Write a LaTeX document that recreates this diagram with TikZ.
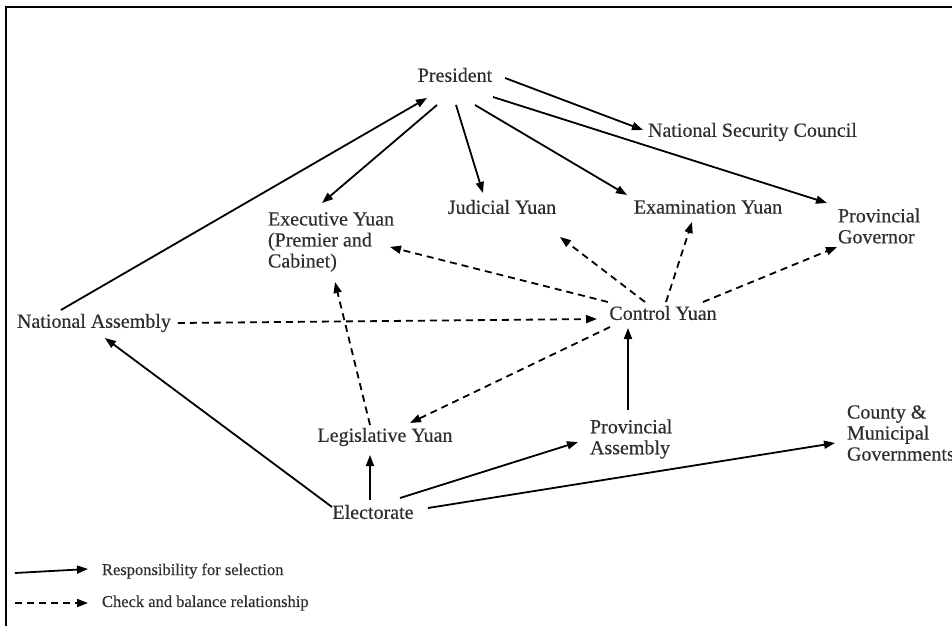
\documentclass[tikz,border=0pt]{standalone}
\usepackage{fontspec}
\setmainfont[FakeBold=0.4]{Liberation Serif}
\usetikzlibrary{arrows.meta}
\definecolor{txt}{RGB}{50,44,50}
\begin{document}
\begin{tikzpicture}[x=1pt,y=-1pt,
  lbl/.style={inner sep=0pt,outer sep=0pt,text=txt,font=\fontsize{20}{21}\selectfont,align=left},
  leglbl/.style={inner sep=0pt,outer sep=0pt,text=txt,font=\fontsize{16.5}{18}\selectfont,anchor=west},
  sel/.style={line width=1.8pt,-{Triangle[length=11pt,width=8pt]}},
  cb/.style={line width=1.8pt,dash pattern=on 7pt off 5pt,-{Triangle[length=11pt,width=8pt]}}]
\useasboundingbox (0,0) rectangle (952,626);
\fill[white] (0,0) rectangle (952,626);
\draw[line width=2.8pt] (952,7) -- (6,7) -- (6,626);

\node[lbl] (pres) at (455,75) {President};
\node[lbl,anchor=west] (nsc) at (648,132) {National Security Council};
\node[lbl,anchor=west] (exec) at (268,242) {Executive Yuan\\(Premier and\\Cabinet)};
\node[lbl] (jud) at (502,207) {Judicial Yuan};
\node[lbl] (exam) at (708,207) {Examination Yuan};
\node[lbl,anchor=west] (gov) at (838,226) {Provincial\\Governor};
\node[lbl] (ctrl) at (663,313) {Control Yuan};
\node[lbl,anchor=west] (na) at (17,323) {National Assembly};
\node[lbl] (leg) at (385,437) {Legislative Yuan};
\node[lbl,anchor=west] (pa) at (590,439) {Provincial\\Assembly};
\node[lbl,anchor=west] (county) at (847,433) {County \&\\Municipal\\Governments};
\node[lbl] (elec) at (373,512) {Electorate};

% legend
\node[leglbl] (lg1) at (102,571) {Responsibility for selection};
\node[leglbl] (lg2) at (102,603) {Check and balance relationship};
\coordinate (ls1) at (15,573);
\coordinate (ls2) at (15,603);
\draw[sel] (ls1) -- ([xshift=-14pt,yshift=2pt]lg1.west);
\draw[cb] (ls2) -- ([xshift=-14pt]lg2.west);

% responsibility for selection
\draw[sel] ([shift={(-33,-13)}]na.center) -- ([shift={(-28,23)}]pres.center);
\draw[sel] ([shift={(-18,30)}]pres.center) -- ([shift={(54,-39)}]exec.west);
\draw[sel] ([shift={(1,30)}]pres.center) -- ([shift={(-19,-14)}]jud.center);
\draw[sel] ([shift={(20,30)}]pres.center) -- ([shift={(-81,-12)}]exam.center);
\draw[sel] ([shift={(50,3)}]pres.center) -- ([shift={(-5,-2)}]nsc.west);
\draw[sel] ([shift={(38,22)}]pres.center) -- ([shift={(-11,-23)}]gov.west);
\draw[sel] ([shift={(38,-29)}]pa.west) -- ([shift={(-35,15)}]ctrl.center);
\draw[sel] ([shift={(-3,-12)}]elec.center) -- ([shift={(-15,18)}]leg.center);
\draw[sel] ([shift={(-41,-5)}]elec.center) -- ([shift={(11,15)}]na.center);
\draw[sel] ([shift={(27,-14)}]elec.center) -- ([shift={(-12,3)}]pa.west);
\draw[sel] ([shift={(55,-4)}]elec.center) -- ([shift={(-12,10)}]county.west);

% check and balance
\draw[cb] ([xshift=7pt]na.east) -- ([shift={(-66,6)}]ctrl.center);
\draw[cb] ([shift={(-55,-11)}]ctrl.center) -- ([shift={(122,5)}]exec.west);
\draw[cb] ([shift={(-18,-11)}]ctrl.center) -- ([shift={(58,30)}]jud.center);
\draw[cb] ([shift={(3,-11)}]ctrl.center) -- ([shift={(-16,15)}]exam.center);
\draw[cb] ([shift={(40,-11)}]ctrl.center) -- ([shift={(-1,21)}]gov.west);
\draw[cb] ([shift={(-53,14)}]ctrl.center) -- ([shift={(25,-14)}]leg.center);
\draw[cb] ([shift={(-15,-12)}]leg.center) -- ([shift={(67,40)}]exec.west);
\end{tikzpicture}
\end{document}
